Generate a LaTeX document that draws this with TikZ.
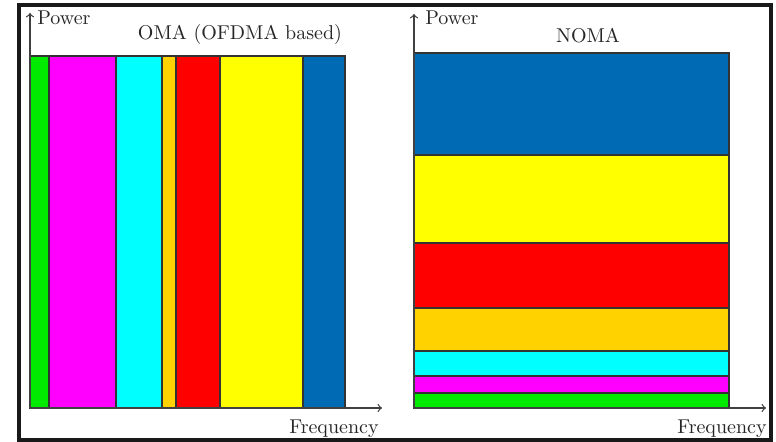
\documentclass[tikz,border=0pt]{standalone}
\usepackage{tikz}
\usetikzlibrary{positioning}
\definecolor{bandgreen}{RGB}{0,235,0}
\definecolor{bandmagenta}{RGB}{255,0,255}
\definecolor{bandcyan}{RGB}{0,255,255}
\definecolor{bandorange}{RGB}{255,210,0}
\definecolor{bandred}{RGB}{255,0,0}
\definecolor{bandyellow}{RGB}{255,255,0}
\definecolor{bandblue}{RGB}{0,106,180}
\tikzset{band/.style={draw=black!80, line width=0.6pt}}
\tikzset{axis/.style={->, draw=black!75, line width=0.6pt}}
\tikzset{axlabel/.style={inner sep=1pt, text=black!85}}
\newcommand{\base}{408}
\begin{document}
\begin{tikzpicture}[x=0.5pt, y=-0.5pt]
  \useasboundingbox (0,0) rectangle (776,442);
  \fill[white] (0,0) rectangle (776,442);
  % outer frame
  \draw[line width=1.8pt, black!90] (19,5) rectangle (771,440);

  % --- OMA: bands side by side in frequency ---
  \begin{scope}
    \draw[band, fill=bandgreen]   (30,56)  rectangle (49,\base);
    \draw[band, fill=bandmagenta] (49,56)  rectangle (116,\base);
    \draw[band, fill=bandcyan]    (116,56) rectangle (162,\base);
    \draw[band, fill=bandorange]  (162,56) rectangle (176,\base);
    \draw[band, fill=bandred]     (176,56) rectangle (220,\base);
    \draw[band, fill=bandyellow]  (220,56) rectangle (303,\base);
    \draw[band, fill=bandblue]    (303,56) rectangle (345,\base);

    \coordinate (oma0) at (30,\base);
    \coordinate (omaP) at (30,13);
    \coordinate (omaF) at (382,\base);
    \draw[axis] (oma0) -- (omaP);
    \draw[axis] (oma0) -- (omaF);
    \node[axlabel, anchor=west] (omapower) at (35,18) {Power};
    \node[axlabel, anchor=north east] (omafreq) at (381,418) {Frequency};
    \node[axlabel] (omatitle) at (240,35) {OMA (OFDMA based)};
  \end{scope}

  % --- NOMA: bands stacked in power ---
  \begin{scope}
    \draw[band, fill=bandblue]    (414,53)  rectangle (729,155);
    \draw[band, fill=bandyellow]  (414,155) rectangle (729,243);
    \draw[band, fill=bandred]     (414,243) rectangle (729,308);
    \draw[band, fill=bandorange]  (414,308) rectangle (729,351);
    \draw[band, fill=bandcyan]    (414,351) rectangle (729,376);
    \draw[band, fill=bandmagenta] (414,376) rectangle (729,393);
    \draw[band, fill=bandgreen]   (414,393) rectangle (729,\base);

    \coordinate (noma0) at (414,\base);
    \coordinate (nomaP) at (414,14);
    \coordinate (nomaF) at (766,\base);
    \draw[axis] (noma0) -- (nomaP);
    \draw[axis] (noma0) -- (nomaF);
    \node[axlabel, anchor=west] (nomapower) at (423,18) {Power};
    \node[axlabel, anchor=north east] (nomafreq) at (769,418) {Frequency};
    \node[axlabel] (nomatitle) at (588,36) {NOMA};
  \end{scope}
\end{tikzpicture}
\end{document}
